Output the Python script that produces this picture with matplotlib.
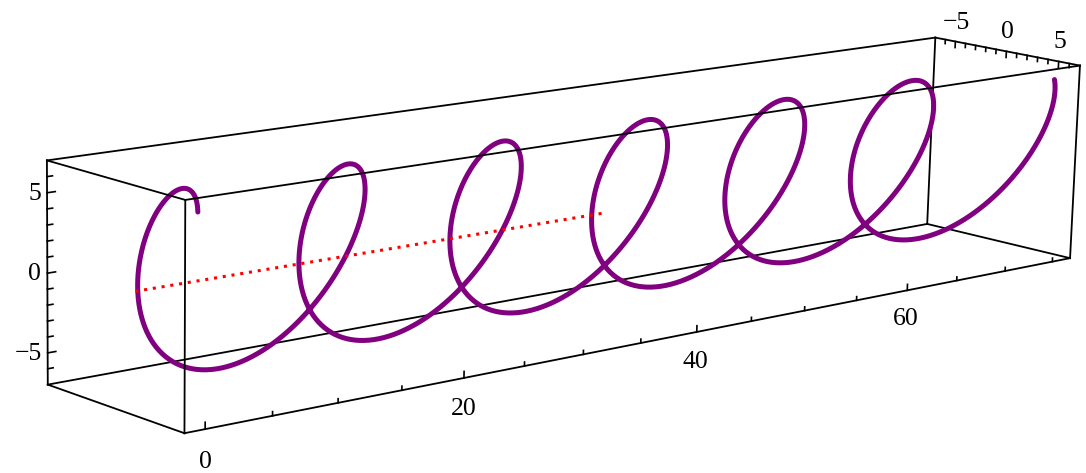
import numpy as np
import matplotlib.pyplot as plt
from mpl_toolkits.mplot3d import proj3d

# box (data ranges with Mathematica's 2% padding on x)
x_range = (-1.508, 76.906)
y_range = (-7.0, 7.0)
z_range = (-7.0, 7.0)

# helix
helix_x = (0.057, 75.55)        # start / end along the axis
helix_turns = 6.004
helix_phase = 0.408
helix_ry, helix_rz = 6.112, 6.683
helix_tilt = 0.6405
helix_wobble = (0.471, -0.140)  # small x oscillation (cos, sin)

# red dotted axis segment
axis_x = [0, 12 * np.pi]

x_ticks_major = [0, 20, 40, 60]
x_ticks_minor = [5, 10, 15, 25, 30, 35, 45, 50, 55, 65, 70, 75]
yz_ticks_major = [-5, 0, 5]
yz_ticks_minor = [-6, -4, -3, -2, -1, 1, 2, 3, 4, 6]

W, H = 1086, 473
fig = plt.figure(figsize=(W / 100, H / 100), dpi=100)
ax = fig.add_subplot(projection="3d")
ax.set_axis_off()
ax.computed_zorder = False

xlo, xhi = x_range
ylo, yhi = y_range
zlo, zhi = z_range
ax.set_xlim(xlo, xhi)
ax.set_ylim(yhi, ylo)
ax.set_zlim(zlo, zhi)
ax.view_init(elev=12.19, azim=-132.57, roll=-1.49)
ax.set_proj_type("persp", focal_length=0.6837)
ax.set_box_aspect((xhi - xlo, yhi - ylo, zhi - zlo), zoom=1.0949)
side = W / H
ax.set_position([0.0405, 0.5 - side / 2 + 0.0178, 1, side])

# helix
u = np.linspace(0, 1, 2000)
th = helix_phase + 2 * np.pi * helix_turns * u
hx = (helix_x[0] + (helix_x[1] - helix_x[0]) * u
      + helix_wobble[0] * np.cos(th) + helix_wobble[1] * np.sin(th))
hy = helix_ry * np.cos(th)
hz = helix_rz * np.sin(th + helix_tilt)

# box edges
c = np.array([[xlo, yhi, zhi], [xlo, yhi, zlo], [xlo, ylo, zhi], [xlo, ylo, zlo],
              [xhi, yhi, zhi], [xhi, yhi, zlo], [xhi, ylo, zhi], [xhi, ylo, zlo]])
back = [(1, 3), (2, 3), (3, 7), (5, 7), (6, 7)]
front = [(0, 1), (0, 4), (1, 5), (4, 5), (0, 2), (2, 6), (4, 6)]
for a, b in back:
    ax.plot(*zip(c[a], c[b]), color="black", lw=1.3, zorder=1)

ax.plot(hx, hy, hz, color="#800080", lw=3.6, solid_capstyle="round", zorder=3)
ax.plot(axis_x, [0, 0], [0, 0], color="red", lw=2.2, ls=(0, (1, 1.9)), zorder=4)

for a, b in front:
    ax.plot(*zip(c[a], c[b]), color="black", lw=1.3, zorder=5)

# ticks
for v in x_ticks_major + x_ticks_minor:
    L = 0.42 if v in x_ticks_major else 0.26
    ax.plot([v, v], [yhi, yhi], [zlo, zlo + L], color="black", lw=1.2, zorder=5)
for v in yz_ticks_major + yz_ticks_minor:
    L = 0.6 if v in yz_ticks_major else 0.4
    ax.plot([xlo, xlo + L], [ylo, ylo], [v, v], color="black", lw=1.2, zorder=5)
    L = 0.45 if v in yz_ticks_major else 0.3
    ax.plot([xhi, xhi], [v, v], [zhi, zhi - L], color="black", lw=1.2, zorder=5)


def label(x, y, z, s, ha):
    xs, ys, _ = proj3d.proj_transform(np.array([x]), np.array([y]), np.array([z]), ax.get_proj())
    ax.text2D(xs[0], ys[0], s, ha=ha, va="center",
              family=["Liberation Serif", "DejaVu Serif"], size=18.5, zorder=6)


for v in yz_ticks_major:
    s = str(v).replace("-", "\u2212")
    label(xlo - 0.45, ylo, v, s, "right")
    label(xhi, v, zhi + 1.4, s, "center")
for v in x_ticks_major:
    label(v, yhi, zlo - 2.0, str(v), "center")

fig.savefig("out.png", dpi=100)
